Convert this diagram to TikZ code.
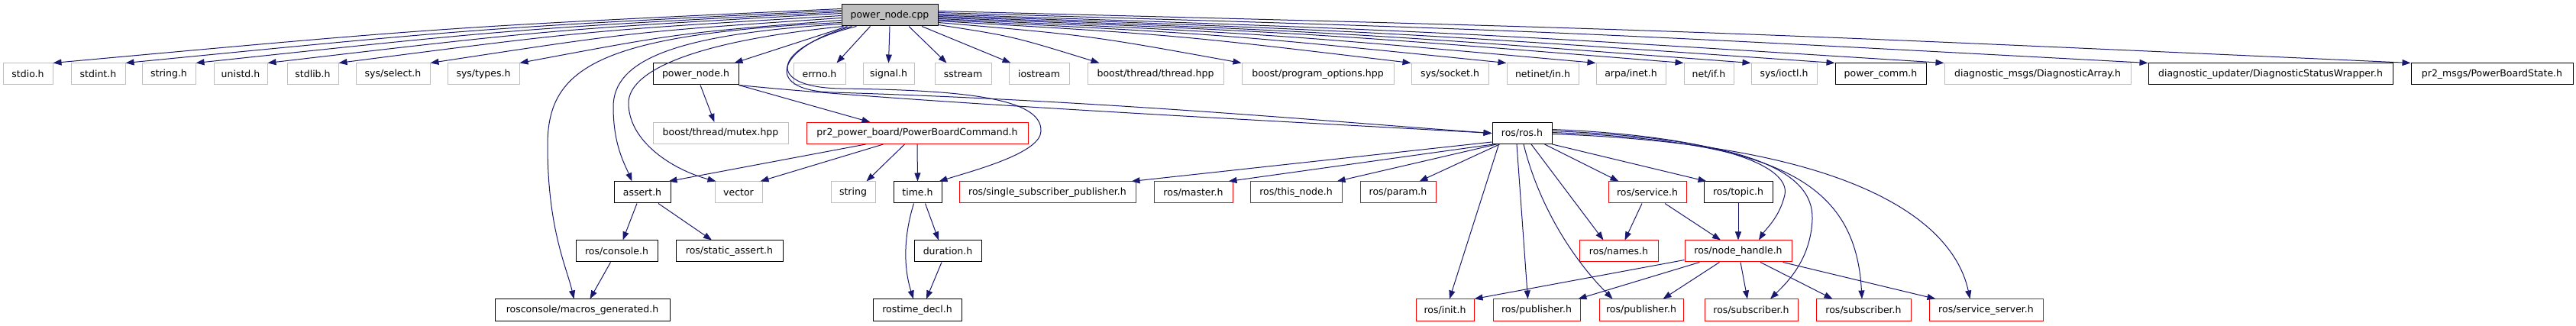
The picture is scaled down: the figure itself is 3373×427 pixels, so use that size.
\documentclass[tikz,border=0pt]{standalone}
\usepackage{fontspec}
\setmainfont{DejaVu Sans}
\usetikzlibrary{arrows.meta,calc}
\definecolor{edgec}{HTML}{191970}
\definecolor{grayb}{HTML}{BFBFBF}
\begin{document}
\begin{tikzpicture}[x=1pt,y=-1pt,
  box/.style={draw,line width=1pt,inner sep=0pt,minimum height=28pt,font=\fontsize{12.5}{15}\selectfont,anchor=center},
  gb/.style={box,draw=grayb},
  bb/.style={box,draw=black},
  rb/.style={box,draw=red},
  e/.style={draw=edgec,line width=1pt,-{Triangle[length=11pt,width=8pt]}}]
\useasboundingbox[fill=white] (0,0) rectangle (3373,427);
% row 0
\node[bb,fill=grayb,minimum width=126pt] (cpp) at (1165,20) {power\_node.cpp};
% row 1
\node[gb,minimum width=65pt] (stdio) at (36.5,97) {stdio.h};
\node[gb,minimum width=71pt] (stdint) at (128.5,97) {stdint.h};
\node[gb,minimum width=70pt] (stringh) at (221,97) {string.h};
\node[gb,minimum width=70pt] (unistd) at (315,97) {unistd.h};
\node[gb,minimum width=67pt] (stdlib) at (409.5,97) {stdlib.h};
\node[gb,minimum width=97pt] (select) at (514.5,97) {sys/select.h};
\node[gb,minimum width=94pt] (types) at (633,97) {sys/types.h};
\node[bb,minimum width=112pt] (pnh) at (911,97) {power\_node.h};
\node[gb,minimum width=68pt] (errno) at (1073,97) {errno.h};
\node[gb,minimum width=67pt] (signal) at (1163.5,97) {signal.h};
\node[gb,minimum width=74pt] (sstream) at (1261,97) {sstream};
\node[gb,minimum width=79pt] (iostream) at (1360.5,97) {iostream};
\node[gb,minimum width=178pt] (thread) at (1513,97) {boost/thread/thread.hpp};
\node[gb,minimum width=199pt] (popt) at (1725.5,97) {boost/program\_options.hpp};
\node[gb,minimum width=101pt] (socket) at (1898.5,97) {sys/socket.h};
\node[gb,minimum width=94pt] (netin) at (2020,97) {netinet/in.h};
\node[gb,minimum width=91pt] (arpa) at (2135.5,97) {arpa/inet.h};
\node[gb,minimum width=65pt] (netif) at (2237.5,97) {net/if.h};
\node[gb,minimum width=86pt] (ioctl) at (2336,97) {sys/ioctl.h};
\node[bb,minimum width=119pt] (pcomm) at (2462.5,97) {power\_comm.h};
\node[gb,minimum width=244pt] (diagarr) at (2668,97) {diagnostic\_msgs/DiagnosticArray.h};
\node[bb,minimum width=320pt] (dsw) at (2973,97) {diagnostic\_updater/DiagnosticStatusWrapper.h};
\node[bb,minimum width=212pt] (pbs) at (3263,97) {pr2\_msgs/PowerBoardState.h};
% row 2
\node[gb,minimum width=177pt] (mutex) at (943.5,174.5) {boost/thread/mutex.hpp};
\node[rb,minimum width=290pt] (pbc) at (1201,174.5) {pr2\_power\_board/PowerBoardCommand.h};
\node[bb,minimum width=78pt] (rosh) at (1993,174.5) {ros/ros.h};
% row 3
\node[bb,minimum width=74pt] (assert) at (841,252) {assert.h};
\node[gb,minimum width=62pt] (vector) at (967,252) {vector};
\node[gb,minimum width=58pt] (stringx) at (1117,252) {string};
\node[bb,minimum width=63pt] (timeh) at (1201.5,252) {time.h};
\node[rb,minimum width=231pt] (ssp) at (1371.5,252) {ros/single\_subscriber\_publisher.h};
\node[rb,minimum width=103pt] (master) at (1562.5,252) {ros/master.h};
\node[rb,minimum width=120pt] (thisnode) at (1697,252) {ros/this\_node.h};
\node[rb,minimum width=99pt] (param) at (1830.5,252) {ros/param.h};
\node[rb,minimum width=102pt] (service) at (2157,252) {ros/service.h};
\node[bb,minimum width=90pt] (topic) at (2276,252) {ros/topic.h};
% row 4
\node[bb,minimum width=107pt] (console) at (807.5,329) {ros/console.h};
\node[bb,minimum width=140pt] (sassert) at (955,329) {ros/static\_assert.h};
\node[bb,minimum width=88pt] (duration) at (1241,329) {duration.h};
\node[rb,minimum width=103pt] (names) at (2119.5,329) {ros/names.h};
\node[rb,minimum width=140pt] (nh) at (2276,329) {ros/node\_handle.h};
% row 5
\node[bb,minimum width=229pt] (macros) at (762.5,406) {rosconsole/macros\_generated.h};
\node[bb,minimum width=116pt] (rostime) at (1201,406) {rostime\_decl.h};
\node[rb,minimum width=76pt] (init) at (1892,406) {ros/init.h};
\node[rb,minimum width=114pt] (pub1) at (2012,406) {ros/publisher.h};
\node[rb,minimum width=110pt] (pub2) at (2149,406) {ros/publisher.h};
\node[rb,minimum width=122pt] (sub1) at (2293,406) {ros/subscriber.h};
\node[rb,minimum width=124pt] (sub2) at (2440,406) {ros/subscriber.h};
\node[rb,minimum width=149pt] (srvsrv) at (2600.5,406) {ros/service\_server.h};

% ---- edges from power_node.cpp, left
\draw[e] ($(cpp.north west)+(0,6)$) .. controls (585,35.5) .. (stdio.north east);
\draw[e] ($(cpp.north west)+(0,8)$) .. controls (633,36.5) .. (stdint.north east);
\draw[e] ($(cpp.north west)+(0,10)$) .. controls (679,37.5) .. (stringh.north east);
\draw[e] ($(cpp.north west)+(0,12)$) .. controls (726,38.5) .. (unistd.north east);
\draw[e] ($(cpp.north west)+(0,15)$) .. controls (772,40) .. (stdlib.north east);
\draw[e] ($(cpp.north west)+(0,18)$) .. controls (832,41.5) .. (select.north east);
\draw[e] ($(cpp.north west)+(0,21)$) .. controls (891,43) .. (types.north east);
\draw[e] ($(cpp.north west)+(0,24)$) .. controls (780,45) and (717,90) .. (717,190) .. controls (717,300) and (742,350) .. ($(macros.north west)+(104,0)$);
\draw[e] ($(cpp.north west)+(0,26)$) .. controls (880,45) and (803,80) .. (803,140) .. controls (803,190) and (818,215) .. ($(assert.north west)+(24,0)$);
\draw[e] ($(cpp.south west)+(3,0)$) .. controls (900,55) and (823,95) .. (823,135) .. controls (823,185) and (880,222) .. ($(vector.north west)+(2,0)$);
\draw[e] ($(cpp.south west)+(8,0)$) -- ($(pnh.north east)+(-6,0)$);
% cpp -> ros.h and time.h
\draw[e] ($(cpp.south west)+(14,0)$) .. controls (1020,60) and (995,118) .. (1090,121) .. controls (1450,132) and (1750,160) .. (rosh.west);
\draw[e] ($(cpp.south west)+(20,0)$) .. controls (1010,62) and (1000,114) .. (1100,116) .. controls (1260,118) and (1365,128) .. (1363,172) .. controls (1362,200) and (1280,222) .. ($(timeh.north east)+(-4,0)$);
% ---- edges from power_node.cpp, right
\draw[e] ($(cpp.south west)+(38,0)$) -- ($(errno.north east)+(-12,0)$);
\draw[e] (cpp.south) -- (signal.north);
\draw[e] ($(cpp.south)+(25,0)$) -- ($(sstream.north west)+(16,0)$);
\draw[e] ($(cpp.south)+(42,0)$) -- ($(iostream.north west)+(3,0)$);
\draw[e] ($(cpp.south east)+(0,-2)$) .. controls (1326,47.5) .. ($(thread.north west)+(16,0)$);
\draw[e] ($(cpp.north east)+(0,24)$) .. controls (1427,46.5) .. (popt.north west);
\draw[e] ($(cpp.north east)+(0,22)$) .. controls (1538,45.5) .. (socket.north west);
\draw[e] ($(cpp.north east)+(0,20.5)$) .. controls (1600.5,44.75) .. (netin.north west);
\draw[e] ($(cpp.north east)+(0,19)$) .. controls (1659,44) .. (arpa.north west);
\draw[e] ($(cpp.north east)+(0,17.5)$) .. controls (1716.5,43.25) .. (netif.north west);
\draw[e] ($(cpp.north east)+(0,16)$) .. controls (1760.5,42.5) .. (ioctl.north west);
\draw[e] ($(cpp.north east)+(0,14.5)$) .. controls (1815.5,41.75) .. (pcomm.north west);
\draw[e] ($(cpp.north east)+(0,13)$) .. controls (1887,41) .. (diagarr.north west);
\draw[e] ($(cpp.north east)+(0,11)$) .. controls (2020.5,40) .. (dsw.north west);
\draw[e] ($(cpp.north east)+(0,9)$) .. controls (2192.5,39) .. (pbs.north west);
% ---- power_node.h
\draw[e] ($(pnh.south)+(6,0)$) -- ($(mutex.north)+(-8,0)$);
\draw[e] (pnh.south east) -- ($(pbc.north west)+(84,0)$);
\draw[e] (pnh.south east) .. controls (1200,135) and (1700,160) .. (rosh.west);
% ---- PowerBoardCommand
\draw[e] ($(pbc.south west)+(78,0)$) -- ($(assert.north east)+(-3,0)$);
\draw[e] ($(pbc.south west)+(101,0)$) -- ($(vector.north east)+(-3,0)$);
\draw[e] ($(pbc.south west)+(129,0)$) -- ($(stringx.north east)+(-12,0)$);
\draw[e] (pbc.south) -- (timeh.north);
% ---- time.h, duration.h
\draw[e] ($(timeh.south)+(-5,0)$) .. controls (1183,310) and (1183,350) .. ($(rostime.north)+(-5,0)$);
\draw[e] ($(timeh.south)+(10,0)$) -- ($(duration.north)+(-12,0)$);
\draw[e] ($(duration.south)+(-8,0)$) -- ($(rostime.north)+(12,0)$);
% ---- assert.h, console.h
\draw[e] ($(assert.south)+(-7,0)$) -- ($(console.north)+(8,0)$);
\draw[e] ($(assert.south)+(21,0)$) -- ($(sassert.north)+(-23,0)$);
\draw[e] ($(console.south)+(-8,0)$) -- ($(macros.north)+(10,0)$);
% ---- ros.h
\draw[e] ($(rosh.south west)+(0,-3)$) -- ($(ssp.north east)+(-6,0)$);
\draw[e] ($(rosh.south west)+(2,0)$) -- ($(master.north east)+(-6,0)$);
\draw[e] ($(rosh.south west)+(6,0)$) -- ($(thisnode.north east)+(-7,0)$);
\draw[e] ($(rosh.south west)+(10,0)$) -- ($(param.north east)+(-22,0)$);
\draw[e] ($(rosh.south west)+(9,0)$) -- ($(init.north)+(6,0)$);
\draw[e] ($(rosh.south)+(-7,0)$) -- ($(pub1.north west)+(46,0)$);
\draw[e] ($(rosh.south)+(2,0)$) .. controls (2015,270) and (2060,340) .. ($(pub2.north west)+(18,0)$);
\draw[e] ($(rosh.south)+(12,0)$) -- ($(names.north west)+(32,0)$);
\draw[e] ($(rosh.south east)+(-10,0)$) -- ($(service.north west)+(14,0)$);
\draw[e] (rosh.south east) -- ($(topic.north west)+(4,0)$);
\draw[e] ($(rosh.east)+(0,-5)$) .. controls (2240,178) and (2345,215) .. (2337,255) .. controls (2330,285) and (2312,300) .. ($(nh.north)+(27,0)$);
\draw[e] ($(rosh.east)+(0,-3)$) .. controls (2290,182) and (2375,225) .. (2373,287) .. controls (2371,340) and (2340,370) .. ($(sub1.north)+(25,0)$);
\draw[e] ($(rosh.east)+(0,-1)$) .. controls (2330,185) and (2430,240) .. ($(sub2.north)+(-2,0)$);
\draw[e] ($(rosh.east)+(0,1)$) .. controls (2450,190) and (2560,300) .. ($(srvsrv.north)+(-21,0)$);
% ---- service.h, topic.h
\draw[e] ($(service.south)+(-7,0)$) -- ($(names.north)+(8,0)$);
\draw[e] ($(service.south)+(23,0)$) -- ($(nh.north)+(-23,0)$);
\draw[e] (topic.south) -- (nh.north);
% ---- node_handle.h
\draw[e] ($(nh.south west)+(0,-3)$) -- (init.north east);
\draw[e] ($(nh.south west)+(20,0)$) -- ($(pub1.north east)+(-3,0)$);
\draw[e] ($(nh.south west)+(46,0)$) -- ($(pub2.north east)+(-27,0)$);
\draw[e] ($(nh.south)+(3,0)$) -- ($(sub1.north)+(-5,0)$);
\draw[e] ($(nh.south)+(29,0)$) -- ($(sub2.north west)+(22,0)$);
\draw[e] ($(nh.south east)+(-12,0)$) -- ($(srvsrv.north west)+(9,0)$);
\end{tikzpicture}
\end{document}
